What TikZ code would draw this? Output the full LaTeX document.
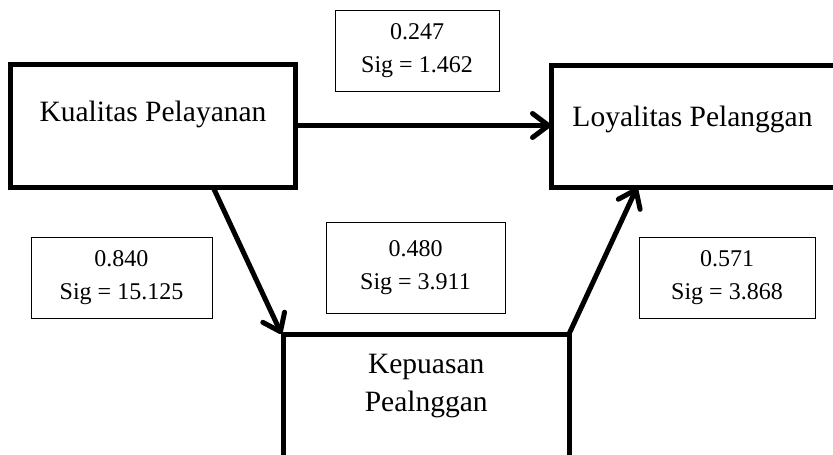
\documentclass[tikz,border=0pt]{standalone}
\usepackage{fontspec}
\setmainfont{Liberation Serif}
\usetikzlibrary{arrows.meta, positioning}

\begin{document}
\begin{tikzpicture}[x=1pt, y=-1pt, font=\fontsize{29.5}{38.5}\selectfont,
    var/.style={draw, line width=5pt, outer sep=0pt, inner sep=0pt},
    coef/.style={draw, line width=1pt, inner sep=0pt, align=center, font=\fontsize{24}{32.5}\selectfont},
    link/.style={line width=5pt, -{Straight Barb[length=16pt, width=24pt, round]}}]
    \useasboundingbox (0,0) rectangle (833,455);
    \clip (0,0) rectangle (833,455);
    \node[var, minimum width=285pt, minimum height=123pt] (kualitas) at (153,125.5) {};
    \node[anchor=base] (kualitas-t) at ([yshift=-57.7pt]kualitas.north) {Kualitas Pelayanan};
    \node[var, minimum width=289pt, minimum height=122.5pt] (loyalitas) at (695.5,126.25) {};
    \node[anchor=base] (loyalitas-t) at ([xshift=-3pt, yshift=-61pt]loyalitas.north) {Loyalitas Pelanggan};
    \node[var, minimum width=285.5pt, minimum height=136pt] (kepuasan) at (426.25,402) {};
    \node[anchor=base, align=center] (kepuasan-t) at ([yshift=-77.7pt]kepuasan.north) {Kepuasan\\Pealnggan};
    \foreach \n/\x/\y/\w/\h/\b/\s in {c1/417/50.5/164/81/0.247/1.462, c2/121.5/277.5/181/81/0.840/15.125,
        c3/415.5/267.5/179/91/0.480/3.911, c4/727/277.5/176/81/0.571/3.868} {
      \node[coef, minimum width=\w pt, minimum height=\h pt] (\n) at (\x,\y) {\b\\Sig = \s};
    }
    \draw[link] (kualitas.east) -- (kualitas.east -| loyalitas.west);
    \draw[link] ([xshift=60pt]kualitas.south) -- ([xshift=-2pt]kepuasan.north west);
    \draw[link] (kepuasan.north east) -- ([xshift=86pt]loyalitas.south west);
  \end{tikzpicture}
\end{document}
